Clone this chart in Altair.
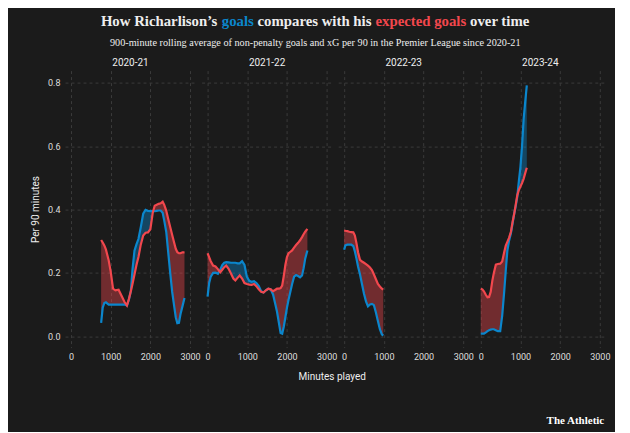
import altair as alt
import pandas as pd

seasons = ["2020-21", "2021-22", "2022-23", "2023-24"]

# 2020-21
min_2021 = [760, 800, 840, 880, 950, 1000, 1060, 1120, 1200, 1280, 1350, 1410, 1460, 1510, 1550, 1600, 1650,
            1700, 1760, 1820, 1880, 1940, 2000, 2060, 2110, 2160, 2210, 2260, 2310, 2350, 2400, 2450, 2500,
            2550, 2600, 2640, 2680, 2720, 2760, 2810, 2860]
xg_2021 = [0.304, 0.296, 0.287, 0.274, 0.24, 0.205, 0.15, 0.145, 0.147, 0.126, 0.108, 0.097, 0.118, 0.143,
           0.165, 0.195, 0.225, 0.25, 0.29, 0.318, 0.327, 0.328, 0.338, 0.39, 0.412, 0.415, 0.418, 0.42,
           0.425, 0.415, 0.397, 0.37, 0.345, 0.32, 0.295, 0.276, 0.265, 0.262, 0.262, 0.265, 0.265]
goals_2021 = [0.042, 0.09, 0.105, 0.107, 0.1, 0.1, 0.1, 0.1, 0.1, 0.1, 0.1, 0.097, 0.115, 0.144, 0.21, 0.27,
              0.29, 0.307, 0.345, 0.387, 0.399, 0.396, 0.395, 0.395, 0.395, 0.396, 0.397, 0.397, 0.39, 0.365,
              0.33, 0.265, 0.2, 0.14, 0.095, 0.06, 0.041, 0.042, 0.07, 0.095, 0.121]

# 2021-22
min_2122 = [0, 40, 80, 140, 200, 260, 320, 370, 420, 470, 530, 590, 650, 700, 760, 810, 870, 930, 990, 1050,
            1110, 1170, 1230, 1290, 1350, 1410, 1470, 1530, 1590, 1650, 1700, 1750, 1800, 1840, 1880, 1920,
            1960, 2000, 2040, 2080, 2130, 2180, 2230, 2280, 2330, 2380, 2420, 2460, 2515]
xg_2122 = [0.262, 0.25, 0.237, 0.223, 0.22, 0.212, 0.202, 0.21, 0.218, 0.223, 0.213, 0.198, 0.182, 0.176,
           0.185, 0.192, 0.182, 0.168, 0.165, 0.163, 0.162, 0.165, 0.158, 0.148, 0.14, 0.138, 0.145, 0.15,
           0.148, 0.142, 0.146, 0.15, 0.15, 0.152, 0.16, 0.19, 0.225, 0.25, 0.262, 0.266, 0.271, 0.28,
           0.288, 0.295, 0.303, 0.313, 0.322, 0.33, 0.339]
goals_2122 = [0.125, 0.168, 0.188, 0.2, 0.201, 0.197, 0.21, 0.225, 0.232, 0.234, 0.233, 0.232, 0.232, 0.232,
              0.23, 0.23, 0.237, 0.225, 0.188, 0.175, 0.172, 0.174, 0.168, 0.158, 0.142, 0.138, 0.145, 0.15,
              0.148, 0.132, 0.105, 0.077, 0.04, 0.01, 0.008, 0.03, 0.06, 0.09, 0.115, 0.137, 0.165, 0.188,
              0.193, 0.19, 0.186, 0.192, 0.215, 0.245, 0.271]

# 2022-23
min_2223 = [0, 30, 80, 130, 180, 230, 270, 310, 350, 400, 450, 500, 550, 600, 650, 700, 750, 800, 850, 900,
            950, 985]
xg_2223 = [0.334, 0.333, 0.332, 0.33, 0.329, 0.328, 0.318, 0.294, 0.265, 0.241, 0.236, 0.232, 0.228, 0.223,
           0.217, 0.209, 0.195, 0.18, 0.165, 0.157, 0.15, 0.147]
goals_2223 = [0.273, 0.287, 0.289, 0.289, 0.289, 0.285, 0.268, 0.245, 0.22, 0.195, 0.164, 0.134, 0.11, 0.094,
              0.1, 0.102, 0.098, 0.075, 0.048, 0.022, 0.006, 0.002]

# 2023-24
min_2324 = [0, 40, 80, 130, 170, 210, 250, 290, 330, 380, 430, 490, 540, 590, 630, 670, 710, 760, 800, 840,
            880, 920, 960, 1000, 1040, 1080, 1120, 1160]
xg_2324 = [0.15, 0.148, 0.142, 0.13, 0.123, 0.124, 0.14, 0.174, 0.2, 0.226, 0.228, 0.229, 0.236, 0.265, 0.286,
           0.298, 0.31, 0.33, 0.36, 0.385, 0.415, 0.445, 0.462, 0.473, 0.484, 0.497, 0.515, 0.532]
goals_2324 = [0.008, 0.008, 0.008, 0.012, 0.016, 0.019, 0.021, 0.022, 0.022, 0.019, 0.016, 0.016, 0.065, 0.14,
              0.207, 0.27, 0.3, 0.325, 0.355, 0.385, 0.41, 0.44, 0.49, 0.535, 0.6, 0.685, 0.74, 0.792]

x_ticks = [0, 1000, 2000, 3000]
y_ticks = [0.0, 0.2, 0.4, 0.6, 0.8]

title_parts = ["How Richarlison’s", "goals", "compares with his", "expected goals", "over time"]
subtitle = "900-minute rolling average of non-penalty goals and xG per 90 in the Premier League since 2020-21"

rows = []
for s, m, g, x in zip(seasons,
                      [min_2021, min_2122, min_2223, min_2324],
                      [goals_2021, goals_2122, goals_2223, goals_2324],
                      [xg_2021, xg_2122, xg_2223, xg_2324]):
    for mi, gi, xi in zip(m, g, x):
        rows.append({"season": s, "minutes": mi, "goals": gi, "xg": xi})
df = pd.DataFrame(rows)

RED = "#f2474d"
BLUE = "#0b86cc"
BG = "#1b1b1b"
TXT = "#eeeeee"

PW, PH = 131, 277
PANEL_LEFT = 64.75  # page x of panel 1's plot area
xscale = alt.Scale(domain=[-150, 3150], nice=False, zero=False)
yscale = alt.Scale(domain=[-0.036, 0.839], nice=False, zero=False)

# Times-Bold advance widths (Liberation Serif Bold is metric compatible), per 1000 em
TB = {"H": 778, "o": 500, "w": 722, " ": 250, "R": 722, "i": 278, "c": 444, "h": 556, "a": 500, "r": 444,
      "l": 278, "s": 389, "n": 556, "’": 333, "g": 500, "m": 833, "p": 556, "e": 444, "t": 333, "x": 500,
      "d": 556, "v": 500}
TITLE_FS = 14.8


def tw(t):
    return sum(TB.get(ch, 500) for ch in t) * TITLE_FS / 1000.0


def one():
    return alt.Chart(pd.DataFrame({"a": [0]}))


def panel(s, first):
    base = alt.Chart(df).transform_filter(alt.datum.season == s).transform_calculate(
        top="max(datum.goals, datum.xg)")
    xax = alt.Axis(values=x_ticks, title=None, labelPadding=5, labelFlush=False, format="d")
    if first:
        yax = alt.Axis(values=y_ticks, format=".1f", title="Per 90 minutes", labelPadding=5, titlePadding=7)
    else:
        yax = alt.Axis(values=y_ticks, labels=False, title=None, minExtent=0, maxExtent=0)
    x = alt.X("minutes:Q", scale=xscale, axis=xax)
    red_area = base.mark_area(color=RED, opacity=0.4).encode(
        x=x, y=alt.Y("goals:Q", scale=yscale, axis=yax), y2=alt.Y2("top:Q"))
    blue_area = base.mark_area(color=BLUE, opacity=0.4).encode(
        x=x, y=alt.Y("xg:Q", scale=yscale, axis=yax), y2=alt.Y2("top:Q"))
    blue_line = base.mark_line(color=BLUE, strokeWidth=2.2).encode(
        x=x, y=alt.Y("goals:Q", scale=yscale, axis=yax))
    red_line = base.mark_line(color=RED, strokeWidth=2.2).encode(
        x=x, y=alt.Y("xg:Q", scale=yscale, axis=yax))
    layers = [red_area, blue_area, blue_line, red_line]
    layers.append(one().mark_text(text=s, color=TXT, font="Roboto", fontSize=10, align="center",
                                  baseline="middle").encode(x=alt.value(PW / 2), y=alt.value(-8)))
    if first:
        colors = [TXT, BLUE, TXT, RED, TXT]
        full = " ".join(title_parts)
        pos = 315 - tw(full) / 2 - PANEL_LEFT
        for t, c in zip(title_parts, colors):
            layers.append(one().mark_text(
                text=t, color=c, font="Liberation Serif", fontWeight="bold", fontSize=TITLE_FS,
                align="left", baseline="middle").encode(x=alt.value(pos), y=alt.value(-49)))
            pos += tw(t + " ")
        layers.append(one().mark_text(
            text=subtitle, color=TXT, font="Liberation Serif", fontSize=10.2, align="center", baseline="middle"
        ).encode(x=alt.value(315 - PANEL_LEFT), y=alt.value(-28)))
        layers.append(one().mark_text(
            text="Minutes played", color=TXT, font="Roboto", fontSize=10, align="center", baseline="middle"
        ).encode(x=alt.value(332 - PANEL_LEFT), y=alt.value(306)))
        layers.append(one().mark_text(
            text="The Athletic", color="#ffffff", font="Liberation Serif", fontWeight="bold", fontSize=11,
            align="right", baseline="middle"
        ).encode(x=alt.value(604 - PANEL_LEFT), y=alt.value(350.7)))
    return alt.layer(*layers).properties(width=PW, height=PH)


chart = alt.hconcat(*[panel(s, i == 0) for i, s in enumerate(seasons)], spacing=5.6, bounds="flush").properties(
    padding={"left": 22, "top": 5.6, "right": 5, "bottom": 5}
).configure(background=BG).configure_view(stroke=None).configure_axis(
    grid=True, gridColor="#3a3a3a", gridDash=[3, 3], gridWidth=1, domain=False, ticks=False,
    labelColor="#dddddd", labelFont="Roboto", labelFontSize=9, titleColor=TXT, titleFont="Roboto",
    titleFontSize=10, titleFontWeight="normal"
)

chart.save("out.html", embed_options={"renderer": "svg", "actions": False})
